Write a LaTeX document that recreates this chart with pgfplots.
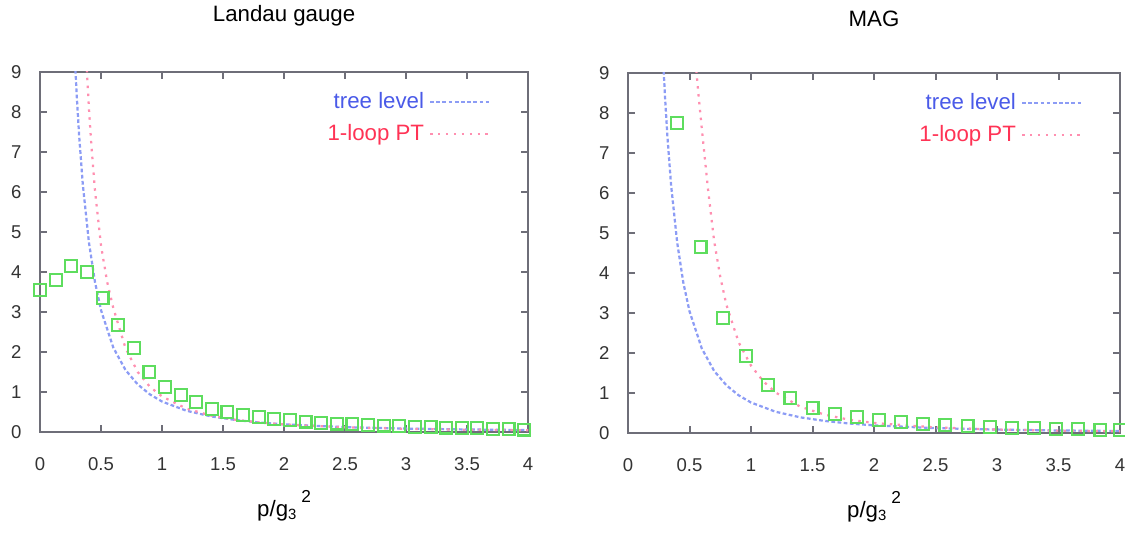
\documentclass[border=0pt]{standalone}
\usepackage{pgfplots}
\pgfplotsset{compat=1.18}
\usepackage{fontspec}
\setmainfont{Liberation Sans}
\definecolor{treeblue}{HTML}{8C9CF5}
\definecolor{treetext}{HTML}{4A5AE8}
\definecolor{looppink}{HTML}{FF8FB0}
\definecolor{looptext}{HTML}{FF3355}
\definecolor{ptgreen}{HTML}{5EDD5E}
\definecolor{axgray}{HTML}{6E6E78}
\pgfplotsset{mystyle/.style={
  scale only axis, height=145.6pt,
  xmin=0, xmax=4, ymin=0, ymax=9,
  xtick={0,0.5,...,4}, ytick={0,1,...,9},
  xticklabels={0,0.5,1,1.5,2,2.5,3,3.5,4},
  axis line style={axgray, line width=1pt},
  tick style={axgray, line width=0.8pt},
  major tick length=3pt,
  tick align=inside,
  ticklabel style={font=\fontsize{7.5}{8}\selectfont, text=black!80},
  /pgf/number format/assume math mode=true,
  xticklabel shift=7pt,
  yticklabel shift=4pt,
  clip mode=individual,
  title style={font=\fontsize{9}{10}\selectfont, at={(axis description cs:0.5,1)}, anchor=south, yshift=9pt},
  xlabel style={font=\fontsize{9}{10}\selectfont, at={(axis description cs:0.5,-0.205)}, anchor=center},
  legend style={at={(axis description cs:1,1)}, anchor=north east, xshift=-11pt, yshift=-4pt,
     draw=none, fill=none, font=\fontsize{9}{10}\selectfont, row sep=1pt},
  legend plot pos=right,
  legend cell align=right,
  legend image code/.code={\draw[##1] (0pt,0pt) -- (25pt,0pt);},
  treestyle/.style={treeblue, line width=0.9pt, dash pattern=on 1.5pt off 1pt},
  loopstyle/.style={looppink, line width=0.9pt, dash pattern=on 1pt off 2.2pt},
  ptstyle/.style={only marks, mark=square, mark size=2.4pt, ptgreen, mark options={line width=0.85pt}},
}}
\begin{document}
\begin{tikzpicture}
\useasboundingbox (0,0) rectangle (455pt,217.2pt);
\begin{axis}[mystyle, width=197.4pt, at={(16.2pt,42.5pt)}, anchor=south west,
  title={Landau gauge}, xlabel={p/g\textsubscript{3}\raisebox{1.2ex}{\,\scriptsize 2}}]
\addplot[treestyle] coordinates {(0.285,9.36) (0.3,8.44) (0.32,7.42) (0.35,6.20) (0.4,4.75) (0.45,3.75) (0.5,3.04) (0.6,2.11) (0.7,1.55) (0.8,1.19) (0.9,0.94) (1.0,0.76) (1.2,0.53) (1.4,0.39) (1.6,0.30) (1.8,0.235) (2.0,0.19) (2.5,0.12) (3.0,0.084) (3.5,0.062) (4.0,0.0475)};
\addlegendentry{\textcolor{treetext}{tree level}}
\addplot[loopstyle] coordinates {(0.38,9.25) (0.4,8.12) (0.42,7.19) (0.45,6.04) (0.5,4.65) (0.55,3.75) (0.6,3.1) (0.7,2.1) (0.8,1.5) (0.9,1.13) (1.0,0.886) (1.2,0.584) (1.4,0.41) (1.6,0.305) (1.8,0.236) (2.0,0.187) (2.5,0.115) (3.0,0.078) (3.5,0.056) (4.0,0.042)};
\addlegendentry{\textcolor{looptext}{1-loop PT}}
\addplot[ptstyle, forget plot] coordinates {(0,3.55) (0.128,3.8) (0.256,4.15) (0.384,4.0) (0.512,3.35) (0.64,2.68) (0.768,2.1) (0.896,1.5) (1.024,1.13) (1.152,0.93) (1.28,0.75) (1.408,0.57) (1.536,0.5) (1.664,0.43) (1.792,0.38) (1.92,0.33) (2.048,0.29) (2.176,0.26) (2.304,0.23) (2.432,0.21) (2.56,0.19) (2.688,0.17) (2.816,0.16) (2.944,0.14) (3.072,0.13) (3.2,0.12) (3.328,0.11) (3.456,0.10) (3.584,0.09) (3.712,0.08) (3.84,0.07) (3.968,0.06)};
\end{axis}
\begin{axis}[mystyle, width=199pt, at={(254pt,42.1pt)}, anchor=south west,
  title={MAG}, xlabel={p/g\textsubscript{3}\raisebox{1.2ex}{\,\scriptsize 2}}]
\addplot[treestyle] coordinates {(0.285,9.36) (0.3,8.44) (0.32,7.42) (0.35,6.20) (0.4,4.75) (0.45,3.75) (0.5,3.04) (0.6,2.11) (0.7,1.55) (0.8,1.19) (0.9,0.94) (1.0,0.76) (1.2,0.53) (1.4,0.39) (1.6,0.30) (1.8,0.235) (2.0,0.19) (2.5,0.12) (3.0,0.084) (3.5,0.062) (4.0,0.0475)};
\addlegendentry{\textcolor{treetext}{tree level}}
\addplot[loopstyle] coordinates {(0.55,9.26) (0.57,8.55) (0.6,7.6) (0.65,6.1) (0.7,4.8) (0.75,3.9) (0.8,3.2) (0.9,2.26) (1.0,1.68) (1.1,1.29) (1.2,1.01) (1.4,0.657) (1.6,0.455) (1.8,0.33) (2.0,0.249) (2.5,0.137) (3.0,0.085) (3.5,0.057) (4.0,0.041)};
\addlegendentry{\textcolor{looptext}{1-loop PT}}
\addplot[ptstyle, forget plot] coordinates {(0.40,7.75) (0.59,4.65) (0.77,2.88) (0.96,1.93) (1.14,1.2) (1.32,0.88) (1.50,0.62) (1.68,0.47) (1.86,0.40) (2.04,0.33) (2.22,0.27) (2.40,0.23) (2.58,0.2) (2.76,0.17) (2.94,0.15) (3.12,0.13) (3.30,0.12) (3.48,0.1) (3.66,0.09) (3.84,0.08) (4.0,0.07)};
\end{axis}
\end{tikzpicture}
\end{document}
